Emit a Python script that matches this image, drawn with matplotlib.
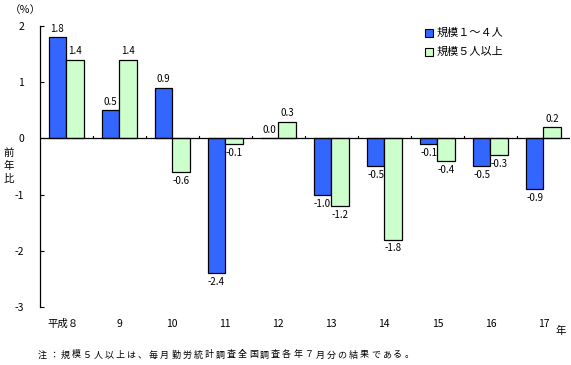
import numpy as np
import matplotlib
matplotlib.use("Agg")
import matplotlib.pyplot as plt
from matplotlib.patches import Rectangle

plt.rcParams['font.family'] = ['Noto Sans CJK JP', 'DejaVu Sans']

# data
years = ["平成８", "9", "10", "11", "12", "13", "14", "15", "16", "17"]
small = [1.8, 0.5, 0.9, -2.4, 0.0, -1.0, -0.5, -0.1, -0.5, -0.9]
large = [1.4, 1.4, -0.6, -0.1, 0.3, -1.2, -1.8, -0.4, -0.3, 0.2]
series_names = ["規模１～４人", "規模５人以上"]
colors = ["#3366FF", "#CCFFCC"]
note = "注：規模５人以上は、毎月勤労統計調査全国調査各年７月分の結果である。"

fig = plt.figure(figsize=(5.71, 3.65), dpi=100)
ax = fig.add_axes([39.5 / 571, 1 - 307 / 365, 530.5 / 571, 281 / 365])

x = np.arange(len(years))
w = 0.33
fs = 7

for vals, off, c in [(small, -w / 2, colors[0]), (large, w / 2, colors[1])]:
    ax.bar(x + off, vals, width=w, color=c, edgecolor="black", linewidth=0.9, zorder=2)
    for xi, v in zip(x + off, vals):
        if v >= 0:
            ax.text(xi, v + 0.06, f"{v:.1f}", ha="center", va="bottom", fontsize=fs)
        else:
            ax.text(xi, v - 0.07, f"{v:.1f}", ha="center", va="top", fontsize=fs)

ax.set_xlim(-0.5, len(years) - 0.5)
ax.set_ylim(-3, 2)
ax.axhline(0, color="black", linewidth=0.9, zorder=3)

# small ticks on the zero line between groups
for b in np.arange(0.5, len(years) - 0.5, 1.0):
    ax.plot([b, b], [0, 0.05], color="black", linewidth=0.8, zorder=3)

for s in ["top", "right", "bottom"]:
    ax.spines[s].set_visible(False)
ax.spines["left"].set_linewidth(0.9)
ax.set_yticks([-3, -2, -1, 0, 1, 2])
ax.set_yticklabels(["-3", "-2", "-1", "0", "1", "2"], fontsize=7.5)
ax.tick_params(axis="y", direction="in", length=3, width=0.8, pad=11)
ax.set_xticks([])

# category labels
for xi, lab in zip(x, years):
    ax.text(xi - (0.05 if xi == 0 else 0), -3.3, lab, ha="center", va="center", fontsize=7.5)

fig.text(561 / 571, 1 - 331 / 365, "年", ha="center", va="center", fontsize=7.5)
fig.text(25 / 571, 1 - 10 / 365, "（％）", ha="center", va="center", fontsize=7.5)
for i, ch in enumerate("前年比"):
    fig.text(9 / 571, 1 - (153 + 13 * i) / 365, ch, ha="center", va="center", fontsize=7.5)

# legend
for i, (name, c) in enumerate(zip(series_names, colors)):
    yy = 1 - (33 + 19 * i) / 365
    fig.patches.append(Rectangle((425 / 571, yy - 3.5 / 365), 8 / 571, 7 / 365,
                                 transform=fig.transFigure, facecolor=c,
                                 edgecolor="black", linewidth=0.8))
    fig.text(437 / 571, yy, name, ha="left", va="center", fontsize=8)

# footnote, spaced out like the original
for i, ch in enumerate(note):
    fig.text((38 + 11.1 * i) / 571, 1 - 355 / 365, ch, ha="left", va="center", fontsize=6.5)

fig.savefig("out.png", dpi=100)
